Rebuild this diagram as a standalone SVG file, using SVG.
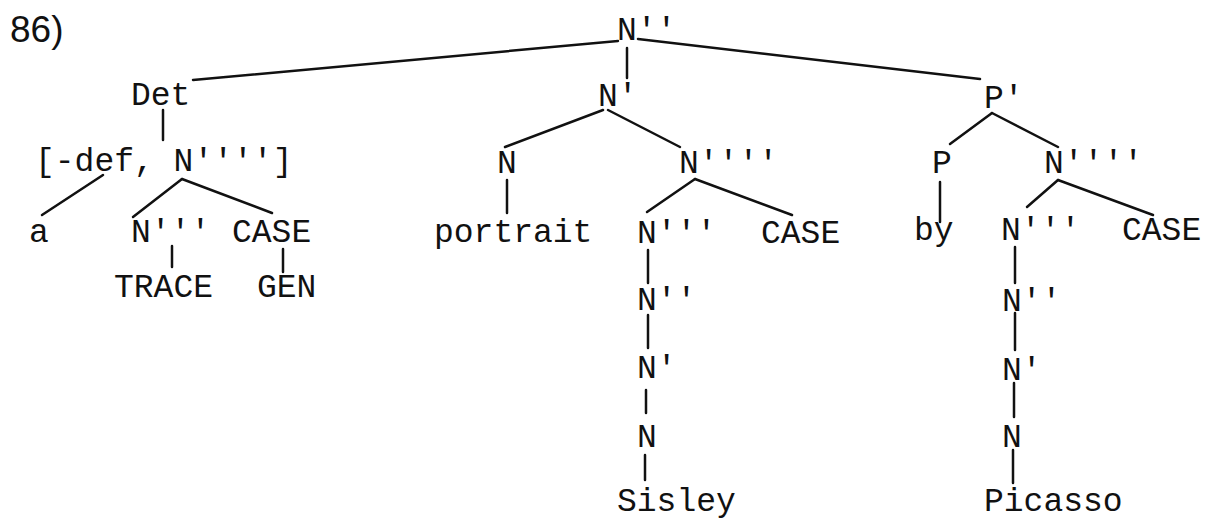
<svg xmlns="http://www.w3.org/2000/svg" width="1210" height="519" viewBox="0 0 1210 519">
<style>
text{font-family:"Liberation Mono","DejaVu Sans Mono",monospace;font-size:33px;fill:#111}
.num{font-family:"Liberation Sans",Arial,sans-serif;font-size:37px}
#connectors line{stroke:#111;stroke-width:2.5;stroke-linecap:round}
</style>
<rect width="1210" height="519" fill="#fff"/>
<text class="num" x="10" y="42">86)</text>
<g id="connectors">
<line x1="193" y1="80" x2="618" y2="41"/>
<line x1="627" y1="48" x2="627" y2="78"/>
<line x1="638" y1="39" x2="980" y2="79"/>
<line x1="163" y1="110" x2="163" y2="140"/>
<line x1="603" y1="110" x2="505" y2="147"/>
<line x1="608" y1="110" x2="680" y2="147"/>
<line x1="992" y1="113" x2="950" y2="144"/>
<line x1="992" y1="113" x2="1058" y2="147"/>
<line x1="103" y1="175" x2="42" y2="215"/>
<line x1="182" y1="179" x2="133" y2="217"/>
<line x1="182" y1="179" x2="272" y2="213"/>
<line x1="172" y1="246" x2="172" y2="267"/>
<line x1="283" y1="249" x2="283" y2="272"/>
<line x1="507" y1="180" x2="507" y2="213"/>
<line x1="695" y1="179" x2="647" y2="212"/>
<line x1="695" y1="179" x2="792" y2="215"/>
<line x1="648" y1="250" x2="648" y2="283"/>
<line x1="648" y1="315" x2="648" y2="348"/>
<line x1="646" y1="390" x2="646" y2="413"/>
<line x1="645" y1="455" x2="645" y2="480"/>
<line x1="940" y1="182" x2="940" y2="222"/>
<line x1="1058" y1="180" x2="1027" y2="207"/>
<line x1="1058" y1="180" x2="1153" y2="215"/>
<line x1="1015" y1="247" x2="1015" y2="283"/>
<line x1="1015" y1="313" x2="1015" y2="350"/>
<line x1="1014" y1="383" x2="1014" y2="417"/>
<line x1="1013" y1="450" x2="1013" y2="483"/>
</g>
<g id="n-root"><text x="617" y="40">N''</text></g>
<g id="n-det"><text x="131" y="105">Det</text></g>
<g id="n-nbar-mid"><text x="598" y="106">N'</text></g>
<g id="n-pbar"><text x="984" y="108">P'</text></g>
<g id="n-def"><text x="35" y="171">[-def, N'''']</text></g>
<g id="n-n-mid"><text x="497" y="173">N</text></g>
<g id="n-n4-mid"><text x="679" y="173">N''''</text></g>
<g id="n-p"><text x="932" y="173">P</text></g>
<g id="n-n4-right"><text x="1044" y="173">N''''</text></g>
<g id="n-a"><text x="29" y="242">a</text></g>
<g id="n-n3-left"><text x="131" y="242">N'''</text></g>
<g id="n-case-left"><text x="232" y="242">CASE</text></g>
<g id="n-trace"><text x="114" y="297">TRACE</text></g>
<g id="n-gen"><text x="257" y="297">GEN</text></g>
<g id="n-portrait"><text x="434" y="242">portrait</text></g>
<g id="n-n3-mid"><text x="637" y="243">N'''</text></g>
<g id="n-case-mid"><text x="761" y="243">CASE</text></g>
<g id="n-by"><text x="914" y="240">by</text></g>
<g id="n-n3-right"><text x="1001" y="240">N'''</text></g>
<g id="n-case-right"><text x="1122" y="240">CASE</text></g>
<g id="n-n2-mid"><text x="637" y="310">N''</text></g>
<g id="n-n1-mid"><text x="637" y="378">N'</text></g>
<g id="n-n0-mid"><text x="637" y="447">N</text></g>
<g id="n-sisley"><text x="617" y="511">Sisley</text></g>
<g id="n-n2-right"><text x="1002" y="311">N''</text></g>
<g id="n-n1-right"><text x="1002" y="380">N'</text></g>
<g id="n-n0-right"><text x="1002" y="447">N</text></g>
<g id="n-picasso"><text x="984" y="511">Picasso</text></g>
</svg>
